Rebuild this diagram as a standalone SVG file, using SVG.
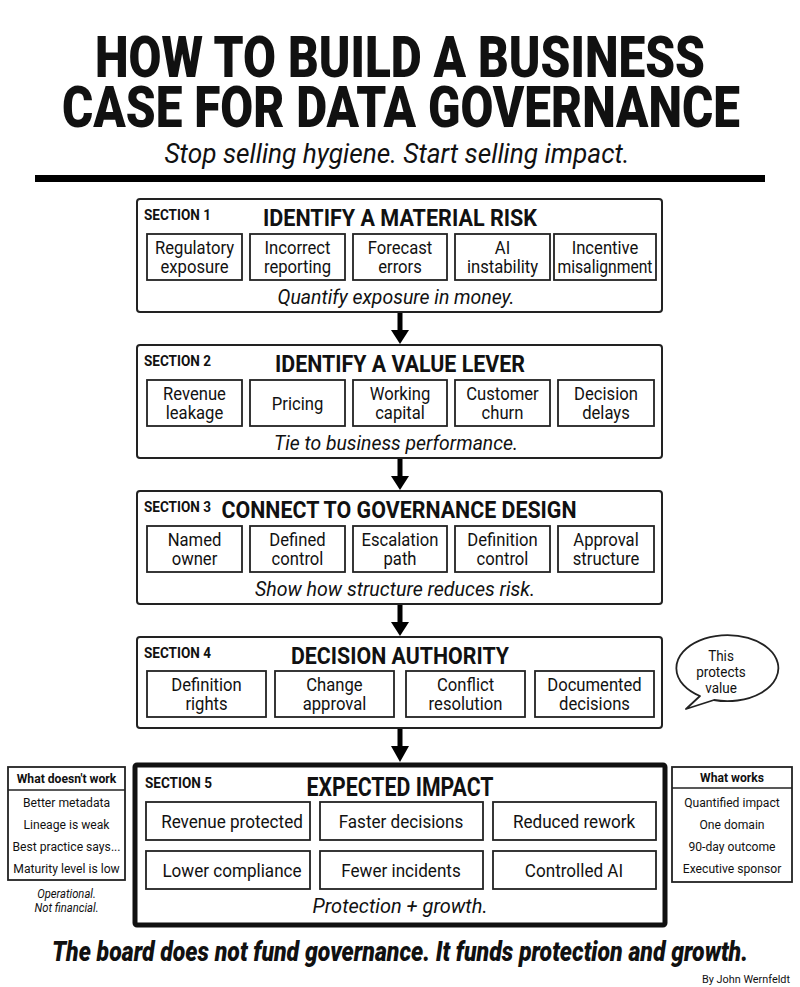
<svg xmlns="http://www.w3.org/2000/svg" width="800" height="987" viewBox="0 0 800 987">
<style>
text{font-family:Roboto,"Liberation Sans",sans-serif;fill:#111}
.c{text-anchor:middle}
.sx{transform-box:fill-box;transform-origin:center;transform:scaleX(0.9)}
.h1{font-size:58px;font-weight:900}
.sub{font-size:28px;font-style:italic}
.lbl{font-size:15px;font-weight:700}
.st{font-size:23px;font-weight:700}
.bt{font-size:18.5px}
.it{font-size:21px;font-style:italic}
.s5t{font-size:19px}
.sec{fill:#fff;stroke:#222;stroke-width:2}
.box{fill:#fff;stroke:#222;stroke-width:1.8}
.side{font-size:13.5px}
.sideh{font-size:13.5px;font-weight:700}
</style>
<rect width="800" height="987" fill="#fff"/>
<g id="header">
<text class="h1 c" x="400" y="77" textLength="610" lengthAdjust="spacingAndGlyphs">HOW TO BUILD A BUSINESS</text>
<text class="h1 c" x="401" y="127" textLength="678" lengthAdjust="spacingAndGlyphs">CASE FOR DATA GOVERNANCE</text>
<text class="sub c" x="397" y="163" textLength="465" lengthAdjust="spacingAndGlyphs">Stop selling hygiene. Start selling impact.</text>
<rect x="35" y="175" width="730" height="7" fill="#000"/>
</g>
<g id="connectors" fill="#000">
<rect x="397.5" y="312" width="5" height="20"/><polygon points="391,330 409,330 400,344"/>
<rect x="397.5" y="458" width="5" height="20"/><polygon points="391,476 409,476 400,490"/>
<rect x="397.5" y="604" width="5" height="20"/><polygon points="391,622 409,622 400,636"/>
<rect x="397.5" y="728" width="5" height="20"/><polygon points="391,746 409,746 400,762"/>
</g>
<g id="section1">
<rect class="sec" x="137" y="199" width="525" height="113" rx="3"/>
<text class="lbl" x="144" y="220" textLength="67" lengthAdjust="spacingAndGlyphs">SECTION 1</text>
<text class="st c" x="400" y="226" textLength="274" lengthAdjust="spacingAndGlyphs">IDENTIFY A MATERIAL RISK</text>
<rect class="box" x="147" y="234" width="95" height="46"/>
<rect class="box" x="250" y="234" width="95" height="46"/>
<rect class="box" x="353" y="234" width="94" height="46"/>
<rect class="box" x="455" y="234" width="95" height="46"/>
<rect class="box" x="554" y="234" width="102" height="46"/>
<text class="bt c sx" x="194.5" y="254">Regulatory</text><text class="bt c sx" x="194.5" y="273">exposure</text>
<text class="bt c sx" x="297.5" y="254">Incorrect</text><text class="bt c sx" x="297.5" y="273">reporting</text>
<text class="bt c sx" x="400" y="254">Forecast</text><text class="bt c sx" x="400" y="273">errors</text>
<text class="bt c sx" x="502.5" y="254">AI</text><text class="bt c sx" x="502.5" y="273">instability</text>
<text class="bt c sx" x="605" y="254">Incentive</text><text class="bt c" x="605" y="273" textLength="95" lengthAdjust="spacingAndGlyphs">misalignment</text>
<text class="it c" x="396" y="304" textLength="237" lengthAdjust="spacingAndGlyphs">Quantify exposure in money.</text>
</g>
<g id="section2">
<rect class="sec" x="137" y="345" width="525" height="113" rx="3"/>
<text class="lbl" x="144" y="366" textLength="67" lengthAdjust="spacingAndGlyphs">SECTION 2</text>
<text class="st c" x="400" y="372" textLength="250" lengthAdjust="spacingAndGlyphs">IDENTIFY A VALUE LEVER</text>
<rect class="box" x="147" y="380" width="95" height="46"/>
<rect class="box" x="250" y="380" width="95" height="46"/>
<rect class="box" x="353" y="380" width="94" height="46"/>
<rect class="box" x="455" y="380" width="95" height="46"/>
<rect class="box" x="558" y="380" width="96" height="46"/>
<text class="bt c sx" x="194.5" y="400">Revenue</text><text class="bt c sx" x="194.5" y="419">leakage</text>
<text class="bt c sx" x="297.5" y="410">Pricing</text>
<text class="bt c sx" x="400" y="400">Working</text><text class="bt c sx" x="400" y="419">capital</text>
<text class="bt c sx" x="502.5" y="400">Customer</text><text class="bt c sx" x="502.5" y="419">churn</text>
<text class="bt c sx" x="606" y="400">Decision</text><text class="bt c sx" x="606" y="419">delays</text>
<text class="it c" x="396" y="450" textLength="244" lengthAdjust="spacingAndGlyphs">Tie to business performance.</text>
</g>
<g id="section3">
<rect class="sec" x="137" y="491" width="525" height="113" rx="3"/>
<text class="lbl" x="144" y="512" textLength="67" lengthAdjust="spacingAndGlyphs">SECTION 3</text>
<text class="st c" x="399" y="518" textLength="355" lengthAdjust="spacingAndGlyphs">CONNECT TO GOVERNANCE DESIGN</text>
<rect class="box" x="147" y="526" width="95" height="46"/>
<rect class="box" x="250" y="526" width="95" height="46"/>
<rect class="box" x="353" y="526" width="94" height="46"/>
<rect class="box" x="455" y="526" width="95" height="46"/>
<rect class="box" x="558" y="526" width="96" height="46"/>
<text class="bt c sx" x="194.5" y="546">Named</text><text class="bt c sx" x="194.5" y="565">owner</text>
<text class="bt c sx" x="297.5" y="546">Defined</text><text class="bt c sx" x="297.5" y="565">control</text>
<text class="bt c sx" x="400" y="546">Escalation</text><text class="bt c sx" x="400" y="565">path</text>
<text class="bt c sx" x="502.5" y="546">Definition</text><text class="bt c sx" x="502.5" y="565">control</text>
<text class="bt c sx" x="606" y="546">Approval</text><text class="bt c sx" x="606" y="565">structure</text>
<text class="it c" x="395" y="596" textLength="280" lengthAdjust="spacingAndGlyphs">Show how structure reduces risk.</text>
</g>
<g id="section4">
<rect class="sec" x="137" y="637" width="525" height="91" rx="3"/>
<text class="lbl" x="144" y="658" textLength="67" lengthAdjust="spacingAndGlyphs">SECTION 4</text>
<text class="st c" x="400" y="664" textLength="218" lengthAdjust="spacingAndGlyphs">DECISION AUTHORITY</text>
<rect class="box" x="147" y="671" width="119" height="46"/>
<rect class="box" x="275" y="671" width="119" height="46"/>
<rect class="box" x="406" y="671" width="119" height="46"/>
<rect class="box" x="535" y="671" width="119" height="46"/>
<text class="bt c sx" x="206.5" y="691">Definition</text><text class="bt c sx" x="206.5" y="710">rights</text>
<text class="bt c sx" x="334.5" y="691">Change</text><text class="bt c sx" x="334.5" y="710">approval</text>
<text class="bt c sx" x="465.5" y="691">Conflict</text><text class="bt c sx" x="465.5" y="710">resolution</text>
<text class="bt c sx" x="594.5" y="691">Documented</text><text class="bt c sx" x="594.5" y="710">decisions</text>
</g>
<g id="bubble">
<path d="M700,696 A51,33 0 1 1 714,700 L686,709 Z" fill="#fff" stroke="#222" stroke-width="1.8" stroke-linejoin="round"/>
<text class="c sx" x="721" y="661" font-size="15">This</text>
<text class="c sx" x="721" y="677" font-size="15">protects</text>
<text class="c sx" x="721" y="693" font-size="15">value</text>
</g>
<g id="section5">
<rect x="135" y="765" width="530" height="160" fill="#fff" stroke="#111" stroke-width="5" rx="2"/>
<text class="lbl" x="145" y="788" textLength="67" lengthAdjust="spacingAndGlyphs">SECTION 5</text>
<text class="c" x="400" y="796" font-size="25" font-weight="700" textLength="187" lengthAdjust="spacingAndGlyphs">EXPECTED IMPACT</text>
<rect class="box" x="146" y="802" width="164" height="38"/>
<rect class="box" x="320" y="802" width="163" height="38"/>
<rect class="box" x="493" y="802" width="163" height="38"/>
<rect class="box" x="146" y="851" width="164" height="38"/>
<rect class="box" x="320" y="851" width="163" height="38"/>
<rect class="box" x="493" y="851" width="163" height="38"/>
<text class="s5t c sx" x="232" y="828">Revenue protected</text>
<text class="s5t c sx" x="401" y="828">Faster decisions</text>
<text class="s5t c sx" x="574" y="828">Reduced rework</text>
<text class="s5t c sx" x="232" y="877">Lower compliance</text>
<text class="s5t c sx" x="401" y="877">Fewer incidents</text>
<text class="s5t c sx" x="574" y="877">Controlled AI</text>
<text class="it c" x="400" y="913" textLength="175" lengthAdjust="spacingAndGlyphs">Protection + growth.</text>
</g>
<g id="doesnt-work">
<rect x="8" y="767" width="117" height="113" fill="#fff" stroke="#222" stroke-width="1.8"/>
<line x1="8" y1="790" x2="125" y2="790" stroke="#222" stroke-width="1.5"/>
<text class="sideh c sx" x="66.5" y="783">What doesn't work</text>
<text class="side c sx" x="66.5" y="807">Better metadata</text>
<text class="side c sx" x="66.5" y="829">Lineage is weak</text>
<text class="side c sx" x="66.5" y="851">Best practice says...</text>
<text class="side c sx" x="66.5" y="873">Maturity level is low</text>
<text class="c sx" x="66.5" y="898" font-size="12.5" font-style="italic">Operational.</text>
<text class="c sx" x="66.5" y="912" font-size="12.5" font-style="italic">Not financial.</text>
</g>
<g id="what-works">
<rect x="672" y="767" width="120" height="115" fill="#fff" stroke="#222" stroke-width="1.8"/>
<line x1="672" y1="788" x2="792" y2="788" stroke="#222" stroke-width="1.5"/>
<text class="sideh c sx" x="732" y="782">What works</text>
<text class="side c sx" x="732" y="807">Quantified impact</text>
<text class="side c sx" x="732" y="829">One domain</text>
<text class="side c sx" x="732" y="851">90-day outcome</text>
<text class="side c sx" x="732" y="873">Executive sponsor</text>
</g>
<g id="footer">
<text class="c" x="400" y="961" font-size="28" font-weight="900" font-style="italic" textLength="696" lengthAdjust="spacingAndGlyphs">The board does not fund governance. It funds protection and growth.</text>
<text x="790" y="983" font-size="11" text-anchor="end" textLength="88" lengthAdjust="spacingAndGlyphs">By John Wernfeldt</text>
</g>
</svg>
